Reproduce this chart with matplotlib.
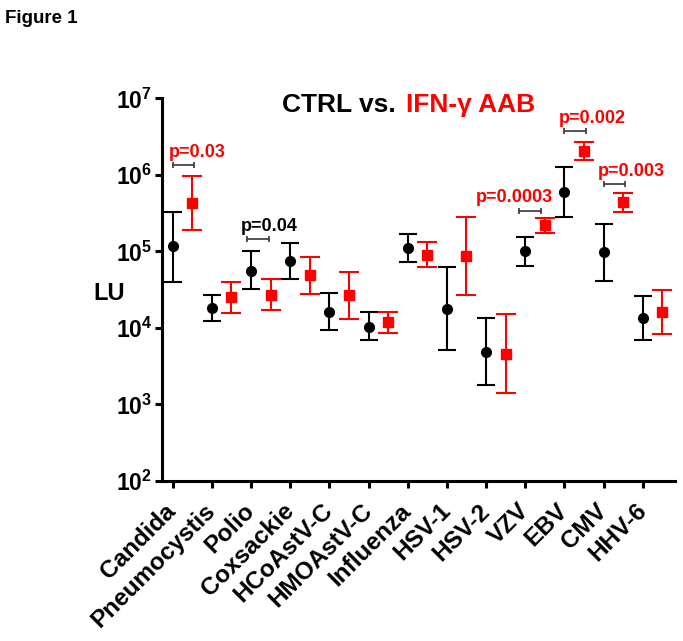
import matplotlib
matplotlib.use('Agg')
import matplotlib.pyplot as plt
from matplotlib.ticker import FixedLocator, FixedFormatter, NullLocator
from matplotlib import font_manager
import numpy as np

# data
categories = ['Candida', 'Pneumocystis', 'Polio', 'Coxsackie', 'HCoAstV-C', 'HMOAstV-C',
              'Influenza', 'HSV-1', 'HSV-2', 'VZV', 'EBV', 'CMV', 'HHV-6']
ctrl_mid = [1.16e5, 1.8e4, 5.6e4, 7.5e4, 1.63e4, 1.04e4, 1.12e5, 1.78e4, 4.9e3, 1.0e5, 6.0e5, 9.8e4, 1.34e4]
ctrl_hi = [3.3e5, 2.7e4, 1.0e5, 1.3e5, 2.9e4, 1.6e4, 1.7e5, 6.3e4, 1.35e4, 1.55e5, 1.25e6, 2.3e5, 2.6e4]
ctrl_lo = [4.0e4, 1.25e4, 3.2e4, 4.4e4, 9.4e3, 6.9e3, 7.3e4, 5.1e3, 1.8e3, 6.5e4, 2.85e5, 4.1e4, 7.0e3]
aab_mid = [4.3e5, 2.5e4, 2.7e4, 4.9e4, 2.7e4, 1.2e4, 9.1e4, 8.6e4, 4.6e3, 2.2e5, 2.05e6, 4.45e5, 1.6e4]
aab_hi = [9.7e5, 4.0e4, 4.3e4, 8.4e4, 5.4e4, 1.63e4, 1.32e5, 2.8e5, 1.5e4, 2.7e5, 2.7e6, 5.8e5, 3.1e4]
aab_lo = [1.9e5, 1.55e4, 1.73e4, 2.8e4, 1.32e4, 8.5e3, 6.3e4, 2.7e4, 1.4e3, 1.75e5, 1.55e6, 3.3e5, 8.4e3]

# significance brackets
sig_idx = [0, 2, 9, 10, 11]
sig_text = ['p=0.03', 'p=0.04', 'p=0.0003', 'p=0.002', 'p=0.003']
sig_red = [True, False, True, True, True]
sig_y = [1.34e6, 1.45e5, 3.4e5, 3.74e6, 7.6e5]
sig_shift = [0.0, -0.1, -0.16, 0.0, 0.0]   # bracket start relative to the tick
text_dx = [10, 8, -11, 12, 12]             # label offset from bracket centre, points

yticks = [1e2, 1e3, 1e4, 1e5, 1e6, 1e7]
ytick_labels = [r'$10^{%d}$' % int(np.log10(v)) for v in yticks]

RED = '#ff0000'

plt.rcParams['font.family'] = ['Liberation Sans', 'DejaVu Sans']
plt.rcParams['font.weight'] = 'bold'
plt.rcParams['mathtext.fontset'] = 'custom'
plt.rcParams['mathtext.rm'] = 'Liberation Sans:bold'
plt.rcParams['mathtext.bf'] = 'Liberation Sans:bold'
plt.rcParams['mathtext.default'] = 'rm'

# narrow face for the corner label, if there is one
installed = {f.name for f in font_manager.fontManager.ttflist}
narrow = [n for n in ['Liberation Sans Narrow', 'DejaVu Sans Condensed'] if n in installed]

fig = plt.figure(figsize=(6.83, 6.41), dpi=100)
ax = fig.add_axes([0.2372, 0.2496, 0.751, 0.5970])

x = np.arange(len(categories))
mid = np.array(ctrl_mid)
ax.errorbar(x, mid, yerr=[mid - np.array(ctrl_lo), np.array(ctrl_hi) - mid],
            fmt='o', color='black', ms=7, elinewidth=1.5, capsize=6.3, capthick=1.5)
mid = np.array(aab_mid)
ax.errorbar(x + 0.5, mid, yerr=[mid - np.array(aab_lo), np.array(aab_hi) - mid],
            fmt='s', color=RED, ms=7.5, elinewidth=1.5, capsize=7.5, capthick=1.5)

for i, txt, red, yb, sh, dx in zip(sig_idx, sig_text, sig_red, sig_y, sig_shift, text_dx):
    x0, x1 = i + sh, i + sh + 0.55
    ax.plot([x0, x1], [yb, yb], color='#444444', lw=1.3, marker='|', ms=5, mew=1.3)
    ax.annotate(txt, xy=((x0 + x1) / 2, yb), xytext=(dx, 6), textcoords='offset points',
                ha='center', va='baseline', fontsize=13, fontweight='bold',
                color=RED if red else 'black')

ax.set_yscale('log')
ax.set_ylim(1e2, 1e7)
ax.set_xlim(-0.27, 12.82)
ax.yaxis.set_major_locator(FixedLocator(yticks))
ax.yaxis.set_major_formatter(FixedFormatter(ytick_labels))
ax.yaxis.set_minor_locator(NullLocator())
ax.set_xticks(x)
ax.set_xticklabels(categories, rotation=45, ha='right', va='center', rotation_mode='anchor',
                   fontsize=17.5, fontweight='bold')

for s in ['top', 'right']:
    ax.spines[s].set_visible(False)
for s in ['left', 'bottom']:
    ax.spines[s].set_linewidth(2.2)
ax.tick_params(axis='both', width=2.2, length=5, direction='out')
ax.tick_params(axis='y', labelsize=16.5, pad=2)
ax.tick_params(axis='x', pad=14)

ax.set_ylabel('LU', rotation=0, fontsize=17, fontweight='bold', ha='center', va='center')
ax.yaxis.set_label_coords(-0.103, 0.49)

fig.text(0.580, 0.825, 'CTRL vs.', ha='right', va='baseline', fontsize=19, fontweight='bold')
fig.text(0.594, 0.825, 'IFN-\u03b3 AAB', ha='left', va='baseline', fontsize=19,
         fontweight='bold', color=RED)
if narrow:
    fig.text(0.007, 0.964, 'Figure 1', ha='left', va='baseline', fontsize=15.5,
             fontweight='bold', family=narrow[0])
else:
    fig.text(0.007, 0.964, 'Figure 1', ha='left', va='baseline', fontsize=13.5,
             fontweight='bold')

fig.savefig('out.png', dpi=100)
